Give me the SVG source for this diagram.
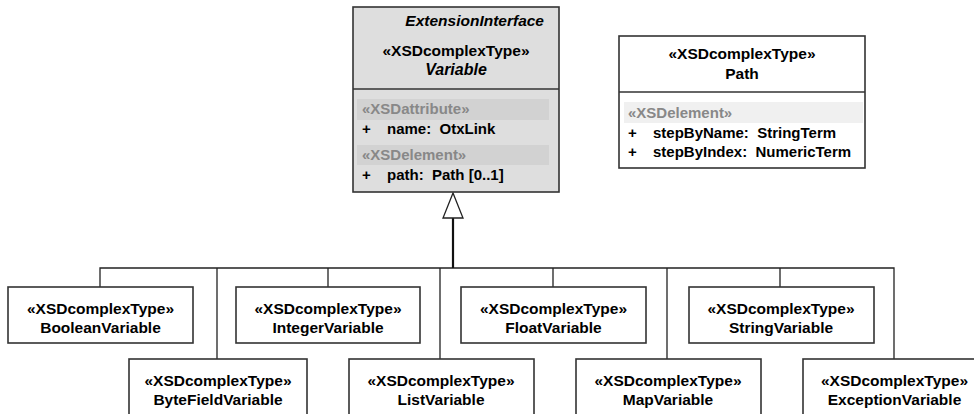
<svg xmlns="http://www.w3.org/2000/svg" width="974" height="414" viewBox="0 0 974 414">
<style>
text{font-family:"Liberation Sans",Arial,sans-serif;font-size:15.5px;font-weight:bold;fill:#000;white-space:pre}
.m{font-size:15px}
.c{text-anchor:middle}
.st{fill:#888;font-size:15px}
.it{font-style:italic}
.box{fill:#fff;stroke:#333;stroke-width:1.6}
.gbox{fill:#dedede;stroke:#333;stroke-width:1.6}
.sep{stroke:#333;stroke-width:1.5}
.band{fill:#d2d2d2}
.wband{fill:#f0f0f0}
.con{fill:none;stroke:#222;stroke-width:1.3}
</style>
<rect width="974" height="414" fill="#fff"/>
<g id="connectors">
<path class="con" d="M100 287V268H894V359M328 287V268M553 287V268M780 287V268M217 359V268M440 359V268M667 359V268"/>
<path d="M453 268V218" fill="none" stroke="#111" stroke-width="2.2"/>
<polygon points="453,193 443,218 463,218" fill="#fff" stroke="#222" stroke-width="1.3"/>
</g>
<g id="Variable">
<rect class="gbox" x="353" y="7" width="206" height="185"/>
<text x="544" y="26" text-anchor="end" class="it">ExtensionInterface</text>
<text class="c" x="456" y="56">«XSDcomplexType»</text>
<text class="c it" x="456" y="75" style="font-size:16px">Variable</text>
<line class="sep" x1="353" y1="89" x2="559" y2="89"/>
<rect class="band" x="357" y="99" width="192" height="21"/>
<text class="st" x="362" y="114">«XSDattribute»</text>
<text class="m" x="362" y="134">+</text>
<text class="m" x="387" y="134" xml:space="preserve">name:  OtxLink</text>
<rect class="band" x="357" y="145" width="192" height="20"/>
<text class="st" x="362" y="160">«XSDelement»</text>
<text class="m" x="362" y="180">+</text>
<text class="m" x="387" y="180" xml:space="preserve">path:  Path [0..1]</text>
</g>
<g id="Path">
<rect class="box" x="619" y="36" width="246" height="132"/>
<text class="c" x="742" y="59">«XSDcomplexType»</text>
<text class="c" x="742" y="79">Path</text>
<line class="sep" x1="619" y1="92" x2="865" y2="92"/>
<rect class="wband" x="624" y="102" width="239" height="21"/>
<text class="st" x="628" y="118">«XSDelement»</text>
<text class="m" x="628" y="138">+</text>
<text class="m" x="653" y="138" xml:space="preserve">stepByName:  StringTerm</text>
<text class="m" x="628" y="157">+</text>
<text class="m" x="653" y="157" xml:space="preserve">stepByIndex:  NumericTerm</text>
</g>
<g id="BooleanVariable">
<rect class="box" x="8" y="287" width="185" height="56"/>
<text class="c" x="100.5" y="314">«XSDcomplexType»</text>
<text class="c" x="100.5" y="333">BooleanVariable</text>
</g>
<g id="IntegerVariable">
<rect class="box" x="236" y="287" width="184" height="56"/>
<text class="c" x="328" y="314">«XSDcomplexType»</text>
<text class="c" x="328" y="333">IntegerVariable</text>
</g>
<g id="FloatVariable">
<rect class="box" x="461" y="287" width="185" height="56"/>
<text class="c" x="553.5" y="314">«XSDcomplexType»</text>
<text class="c" x="553.5" y="333">FloatVariable</text>
</g>
<g id="StringVariable">
<rect class="box" x="689" y="287" width="185" height="56"/>
<text class="c" x="781" y="314">«XSDcomplexType»</text>
<text class="c" x="781" y="333">StringVariable</text>
</g>
<g id="ByteFieldVariable">
<rect class="box" x="129" y="359" width="178" height="70"/>
<text class="c" x="218" y="386">«XSDcomplexType»</text>
<text class="c" x="218" y="405">ByteFieldVariable</text>
</g>
<g id="ListVariable">
<rect class="box" x="349" y="359" width="185" height="70"/>
<text class="c" x="441" y="386">«XSDcomplexType»</text>
<text class="c" x="441" y="405">ListVariable</text>
</g>
<g id="MapVariable">
<rect class="box" x="576" y="359" width="185" height="70"/>
<text class="c" x="668" y="386">«XSDcomplexType»</text>
<text class="c" x="668" y="405">MapVariable</text>
</g>
<g id="ExceptionVariable">
<rect class="box" x="803" y="359" width="183" height="70"/>
<text class="c" x="894.5" y="386">«XSDcomplexType»</text>
<text class="c" x="894.5" y="405">ExceptionVariable</text>
</g>
</svg>
